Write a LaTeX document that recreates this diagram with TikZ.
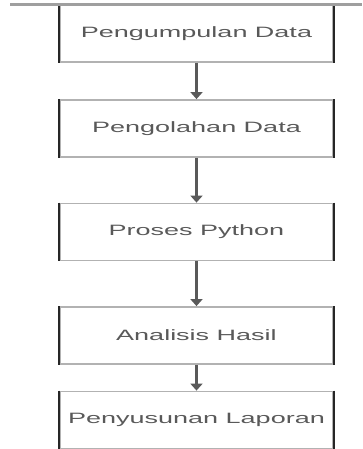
\documentclass[tikz,border=0pt]{standalone}
\usepackage{fontspec}
\setmainfont{Liberation Sans}
\usetikzlibrary{arrows.meta}
\begin{document}
\begin{tikzpicture}[x=1pt,y=-1pt,
  stepbox/.style={draw=gray!60, line width=1.8pt, minimum width=273pt, minimum height=57pt,
    inner sep=0pt, text=black!65, font=\fontsize{15}{18}\selectfont},
  sidebar/.style={draw=black!85, line width=2.4pt},
  flow/.style={draw=black!65, line width=2.6pt, -{Triangle[width=12pt,length=7pt]}},
  topline/.style={draw=gray!75, line width=3pt}]
\useasboundingbox (0,0) rectangle (362,449);
\node[stepbox] (b1) at (196.5,33.5) {\scalebox{1.8}[1]{Pengumpulan Data}};
\node[stepbox] (b2) at (196.5,128.5) {\scalebox{1.8}[1]{Pengolahan Data}};
\node[stepbox] (b3) at (196.5,232) {\scalebox{1.8}[1]{Proses Python}};
\node[stepbox] (b4) at (196.5,335.5) {\scalebox{1.8}[1]{Analisis Hasil}};
\node[stepbox] (b5) at (196.5,420) {\scalebox{1.8}[1]{Penyusunan Laporan}};
\foreach \b in {b1,b2,b3,b4,b5}{
  \draw[sidebar] (\b.north west) -- (\b.south west);
  \draw[sidebar] (\b.north east) -- (\b.south east);
}
\coordinate (tl) at (10,5);
\coordinate (tr) at (362,5);
\draw[topline] (tl) -- (tr);
\draw[flow] (b1.south) -- (b2.north);
\draw[flow] (b2.south) -- (b3.north);
\draw[flow] (b3.south) -- (b4.north);
\draw[flow] (b4.south) -- (b5.north);
\end{tikzpicture}
\end{document}
